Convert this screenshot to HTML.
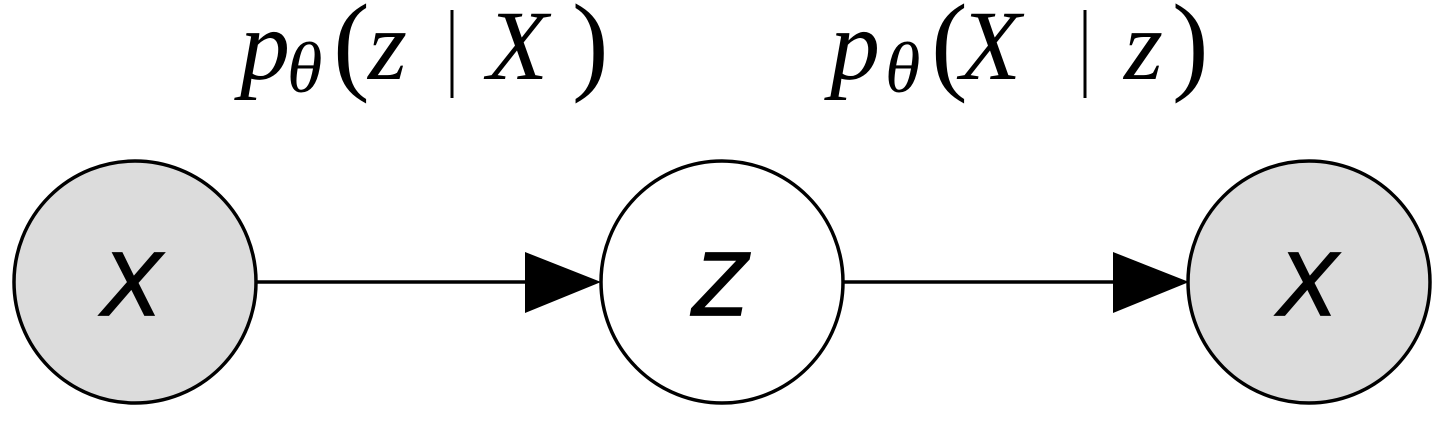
<!DOCTYPE html>
<html><head><style>body{margin:0;background:#fff;width:1440px;height:419px;overflow:hidden}</style></head>
<body>
<svg width="1440" height="419" viewBox="0 0 1440 419" xmlns="http://www.w3.org/2000/svg">
<rect width="1440" height="419" fill="#fff"/>
<circle cx="135" cy="282" r="121" fill="#dcdcdc" stroke="#000" stroke-width="3.5"/>
<circle cx="722" cy="282" r="121" fill="#fff" stroke="#000" stroke-width="3.5"/>
<circle cx="1309" cy="282" r="121" fill="#dcdcdc" stroke="#000" stroke-width="3.5"/>
<line x1="257" y1="282" x2="530" y2="282" stroke="#000" stroke-width="3.5"/>
<polygon points="525,252 601,282 525,313" fill="#000"/>
<line x1="844" y1="282" x2="1118" y2="282" stroke="#000" stroke-width="3.5"/>
<polygon points="1113,252 1189,282 1113,313" fill="#000"/>
<g font-family="Liberation Sans, sans-serif" font-style="italic" font-size="90" text-anchor="middle" stroke="#000" stroke-width="1.8">
<text x="131" y="315">X</text>
<text x="720" y="315">Z</text>
<text x="1307" y="315">X</text>
</g>
<g font-family="Liberation Serif, serif" font-size="100" font-style="italic">
<text x="240" y="79">p</text>
<text x="287" y="92" font-size="72">θ</text>
<text x="333" y="80" font-style="normal" font-size="110">(</text>
<text x="368" y="79">z</text>
<text x="487" y="79">X</text>
<text x="572" y="80" font-style="normal" font-size="110">)</text>
<text x="830" y="79">p</text>
<text x="885" y="92" font-size="72">θ</text>
<text x="931" y="80" font-style="normal" font-size="110">(</text>
<text x="960" y="79">X</text>
<text x="1124" y="79">z</text>
<text x="1172" y="80" font-style="normal" font-size="110">)</text>
</g>
<line x1="452" y1="10" x2="452" y2="98" stroke="#000" stroke-width="3"/>
<line x1="1085" y1="10" x2="1085" y2="98" stroke="#000" stroke-width="3"/>
</svg>
</body></html>
